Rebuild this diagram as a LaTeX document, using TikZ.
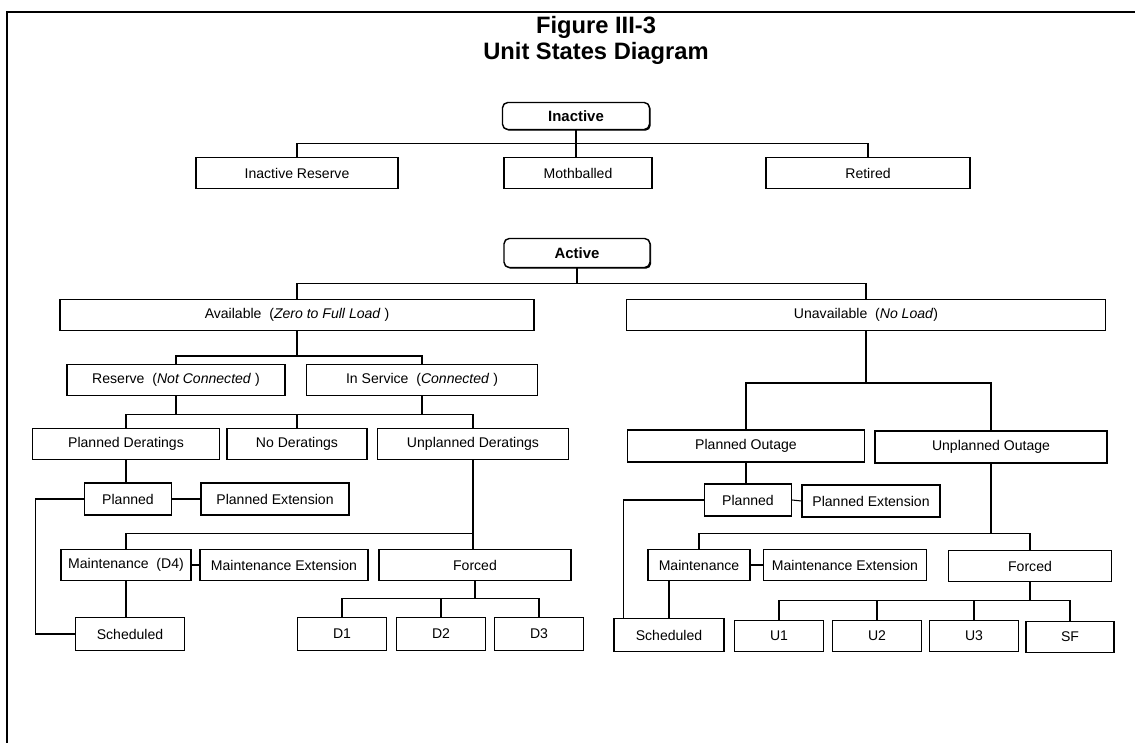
\documentclass[tikz,border=0pt]{standalone}
\usepackage{fontspec}
\setmainfont{Liberation Sans}
\usetikzlibrary{shadows}
\tikzset{
  box/.style={draw, line width=0.6pt, fill=white, inner sep=1pt, minimum height=0.62cm, font=\fontsize{8}{9.6}\selectfont},
  topbox/.style={draw, line width=0.8pt, rounded corners=3pt, fill=white, font=\fontsize{8.5}{10}\selectfont\bfseries,
    drop shadow={shadow xshift=0.7pt, shadow yshift=-0.7pt, fill=black, opacity=1}},
  wd/.style={minimum width=#1*0.02cm},
  ht/.style={minimum height=#1*0.02cm},
  link/.style={line width=0.6pt},
}

\begin{document}
\begin{tikzpicture}[x=0.02cm, y=-0.02cm]
 \useasboundingbox (0,0) rectangle (1135,743);
 \draw [line width=0.6pt] (7,743) -- (7,12) -- (1135,12);
 \node [font=\fontsize{13.5}{16}\selectfont\bfseries] (title) at (596,27) {Figure III-3};
 \node [font=\fontsize{13.5}{16}\selectfont\bfseries] (subtitle) at (596,53) {Unit States Diagram};

 % inactive states
 \node [topbox, wd=147, ht=27] (inact) at (576,116) {Inactive};
 \node [box, wd=202] (ires) at (297,173) {Inactive Reserve};
 \node [box, wd=148] (moth) at (578,173) {Mothballed};
 \node [box, wd=204] (reti) at (868,173) {Retired};

 % active states
 \node [topbox, wd=146, ht=29] (act) at (577,253) {Active};
 \node [box, wd=474] (avail) at (297,315) {Available\ \ (\textit{Zero to Full Load} )};
 \node [box, wd=479] (unav) at (866,315) {Unavailable\ \ (\textit{No Load})};
 \node [box, wd=218] (resv) at (176,380) {Reserve\ \ (\textit{Not Connected} )};
 \node [box, wd=231] (insv) at (422,380) {In Service\ \ (\textit{Connected} )};
 \node [box, wd=187] (pder) at (126,444) {Planned Deratings};
 \node [box, wd=140] (noder) at (297,444) {No Deratings};
 \node [box, wd=191] (uder) at (473,444) {Unplanned Deratings};
 \node [box, wd=87, ht=32] (plan) at (128,499) {Planned};
 \node [box, wd=148, ht=32] (plext) at (275,499) {Planned Extension};
 \node [box, wd=130] (maint) at (126,565) {Maintenance\ \ (D4)};
 \node [box, wd=168] (mext) at (284,565) {Maintenance Extension};
 \node [box, wd=192] (forc) at (475,565) {Forced};
 \node [box, wd=109, ht=33] (sched) at (130,634) {Scheduled};
 \node [box, wd=89, ht=33] (d1) at (342,634) {D1};
 \node [box, wd=89, ht=33] (d2) at (441,634) {D2};
 \node [box, wd=89, ht=33] (d3) at (539,634) {D3};

 \node [box, wd=237, ht=32] (pout) at (746,446) {Planned Outage};
 \node [box, wd=232, ht=32] (uout) at (991,447) {Unplanned Outage};
 \node [box, wd=87, ht=32] (planR) at (748,500) {Planned};
 \node [box, wd=138, ht=32] (plextR) at (871,501) {Planned Extension};
 \node [box, wd=102] (maintR) at (699,565) {Maintenance};
 \node [box, wd=163] (mextR) at (845,565) {Maintenance Extension};
 \node [box, wd=163] (forcR) at (1030,566) {Forced};
 \node [box, wd=110, ht=33] (schedR) at (669,635) {Scheduled};
 \node [box, wd=89, ht=31] (u1) at (779,636) {U1};
 \node [box, wd=89, ht=31] (u2) at (877,636) {U2};
 \node [box, wd=89, ht=31] (u3) at (974,636) {U3};
 \node [box, wd=88, ht=31] (sf) at (1070,637) {SF};

 % inactive tree
 \draw [link] (inact.south) -- ++(0,13) coordinate (j0);
 \draw [link] (j0) -| (ires.north);
 \draw [link] (j0) -| (reti.north);
 \draw [link] (j0) -- (j0 |- moth.north);

 % active tree
 \draw [link] (act.south) -- ++(0,15.5) coordinate (j1);
 \draw [link] (j1) -| (avail.north);
 \draw [link] (j1) -| (unav.north);
 \draw [link] (avail.south) -- ++(0,25) coordinate (j2);
 \draw [link] (j2) -| (resv.north);
 \draw [link] (j2) -| (insv.north);
 \draw [link] (resv.south) -- ++(0,18) coordinate (j3);
 \draw [link] (j3) -| (pder.north);
 \draw [link] (j3) -| (uder.north);
 \draw [link] (noder.north) -- (noder.north |- j3);
 \draw [link] (insv.south) -- (insv.south |- j3);
 \draw [link] (pder.south) -- (pder.south |- plan.north);
 \draw [link] (plan.east) -- (plext.west);
 \draw [link] (uder.south) -- (uder.south |- forc.north);
 \path (uder.south) ++(0,73.5) coordinate (j4);
 \draw [link] (j4) -| (maint.north);
 \draw [link] (maint.east) -- (mext.west);
 \draw [link] (maint.south) -- (maint.south |- sched.north);
 \draw [link] (plan.west) -- ++(-48.5,0) |- (sched.west);
 \draw [link] (forc.south) -- ++(0,17.5) coordinate (j5);
 \draw [link] (j5) -| (d1.north);
 \draw [link] (j5) -| (d3.north);
 \draw [link] (d2.north) -- (d2.north |- j5);

 \draw [link] (unav.south) -- ++(0,52) coordinate (j6);
 \draw [link] (j6) -| (pout.north);
 \draw [link] (j6) -| (uout.north);
 \draw [link] (pout.south) -- (pout.south |- planR.north);
 \draw [link] (planR.east) -- (plextR.west);
 \draw [link] (planR.west) -- ++(-80.5,0) coordinate (k1);
 \draw [link] (k1) -- (k1 |- schedR.north);
 \draw [link] (uout.south) -- ++(0,70) coordinate (j7);
 \draw [link] (j7) -| (maintR.north);
 \draw [link] (j7) -| (forcR.north);
 \draw [link] (maintR.east) -- (mextR.west);
 \draw [link] (schedR.north) -- (schedR.north |- maintR.south);
 \draw [link] (forcR.south) -- ++(0,18.5) coordinate (j8);
 \draw [link] (j8) -| (u1.north);
 \draw [link] (j8) -| (sf.north);
 \draw [link] (u2.north) -- (u2.north |- j8);
 \draw [link] (u3.north) -- (u3.north |- j8);
\end{tikzpicture}
\end{document}
